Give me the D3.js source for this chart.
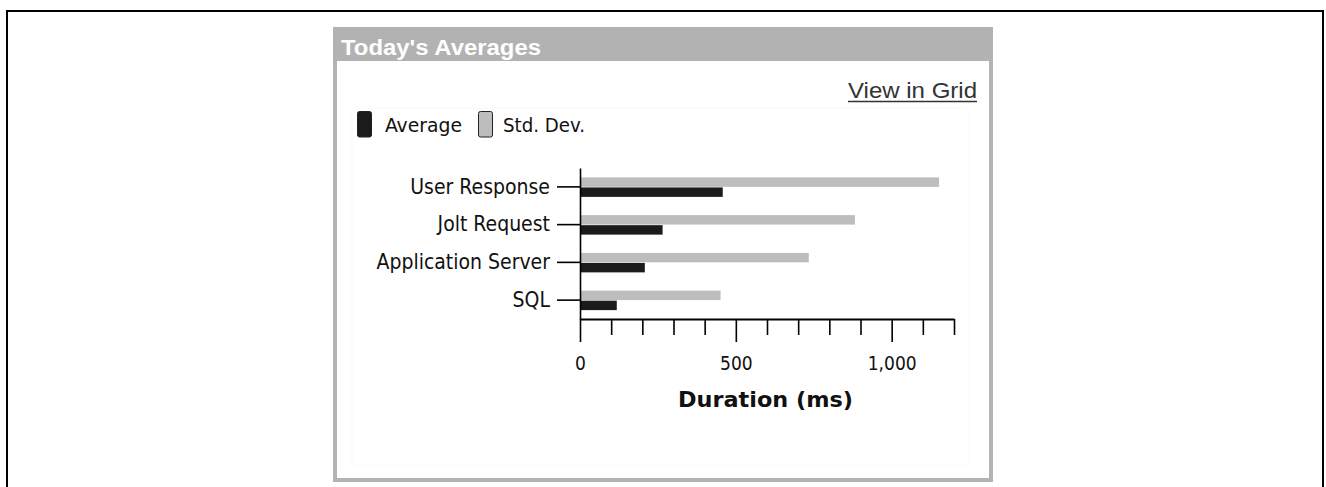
<!DOCTYPE html>
<html>
<head>
<meta charset="utf-8">
<script src="https://cdn.jsdelivr.net/npm/d3@7"></script>
<style>
  html, body { margin: 0; padding: 0; background: #fff; }
  svg { display: block; }
  .lbl { font-family: "DejaVu Sans Condensed", "DejaVu Sans", sans-serif; font-stretch: condensed; fill: #111; }
</style>
</head>
<body>
<svg id="chart" width="1326" height="487"></svg>
<script>
// Response-time breakdown for today
const categories = ["User Response", "Jolt Request", "Application Server", "SQL"];
const averageMs = [458, 265, 208, 118];
const stdDevMs = [1152, 882, 734, 451];
const seriesNames = ["Std. Dev.", "Average"];
const legendNames = ["Average", "Std. Dev."];
const xTickValues = [0, 100, 200, 300, 400, 500, 600, 700, 800, 900, 1000, 1100, 1200];
const xMajorTicks = [0, 500, 1000];
const titleText = "Today's Averages";
const linkText = "View in Grid";
const xAxisTitle = "Duration (ms)";

const svg = d3.select("#chart");
const colors = { "Average": "#1b1b1b", "Std. Dev.": "#bdbdbd" };

// page frame
svg.append("rect")
  .attr("x", 7).attr("y", 11).attr("width", 1316).attr("height", 500)
  .attr("fill", "none").attr("stroke", "#000").attr("stroke-width", 2);

// panel
const panel = { x: 333, y: 27, w: 660, h: 455, head: 34 };
svg.append("rect")
  .attr("x", panel.x + 2).attr("y", panel.y + 2)
  .attr("width", panel.w - 4).attr("height", panel.h - 4)
  .attr("fill", "#fff").attr("stroke", "#b3b3b3").attr("stroke-width", 4);
svg.append("rect")
  .attr("x", panel.x).attr("y", panel.y)
  .attr("width", panel.w).attr("height", panel.head)
  .attr("fill", "#b2b2b2");
svg.append("text")
  .attr("x", 341).attr("y", 55)
  .attr("textLength", 200).attr("lengthAdjust", "spacingAndGlyphs")
  .style("font-family", "'Liberation Sans', Arial, sans-serif")
  .style("font-weight", "bold").style("font-size", "22px")
  .attr("fill", "#fff")
  .text(titleText);

// faint plot-area outline
svg.append("rect")
  .attr("x", 352).attr("y", 108).attr("width", 616).attr("height", 357)
  .attr("fill", "none").attr("stroke", "#fafafa").attr("stroke-width", 1);

// link
svg.append("text")
  .attr("x", 848).attr("y", 98)
  .attr("textLength", 129).attr("lengthAdjust", "spacingAndGlyphs")
  .style("font-family", "'Liberation Sans', Arial, sans-serif")
  .style("font-size", "22px")
  .attr("fill", "#333")
  .text(linkText);
svg.append("line")
  .attr("x1", 848).attr("x2", 977).attr("y1", 101.5).attr("y2", 101.5)
  .attr("stroke", "#333").attr("stroke-width", 1.6);

// legend
const legendX = [357, 478];
const legendTextX = [385, 503];
const legendTextW = [77, 82];
legendNames.forEach((name, i) => {
  svg.append("rect")
    .attr("x", legendX[i] + 0.5).attr("y", 111.5)
    .attr("width", 14).attr("height", 25.5).attr("rx", 2)
    .attr("fill", colors[name]).attr("stroke", "#222").attr("stroke-width", 1);
  svg.append("text")
    .attr("class", "lbl")
    .attr("x", legendTextX[i]).attr("y", 131.5)
    .attr("textLength", legendTextW[i]).attr("lengthAdjust", "spacingAndGlyphs")
    .style("font-size", "20px")
    .text(name);
});

// scales
const x = d3.scaleLinear().domain([0, 1200]).range([580, 954]);
const y = d3.scaleBand().domain(categories).range([168, 319]).padding(0);
const sub = d3.scaleBand().domain(seriesNames).range([-9.5, 10]).paddingInner(0.06);

const rows = categories.map((c, i) => ({ cat: c, "Average": averageMs[i], "Std. Dev.": stdDevMs[i] }));

// bars
const g = svg.append("g");
rows.forEach(r => {
  const cy = y(r.cat) + y.bandwidth() / 2;
  seriesNames.forEach(s => {
    g.append("rect")
      .attr("x", x(0))
      .attr("y", cy + sub(s))
      .attr("width", x(r[s]) - x(0))
      .attr("height", sub.bandwidth())
      .attr("fill", colors[s]);
  });
});

// y axis
const yAxis = svg.append("g")
  .attr("transform", `translate(${x(0)},0)`)
  .call(d3.axisLeft(y).tickSize(23).tickSizeOuter(0).tickPadding(7));
yAxis.select(".domain").attr("stroke", "#000").attr("stroke-width", 1.6);
yAxis.selectAll(".tick line").attr("stroke", "#000").attr("stroke-width", 1.6);
yAxis.selectAll(".tick text")
  .attr("class", "lbl")
  .style("font-size", "21px")
  .attr("fill", "#111");

// x axis
const fmt = d3.format(",");
const xAxis = svg.append("g")
  .attr("transform", "translate(0,319)")
  .call(d3.axisBottom(x).tickValues(xTickValues).tickSize(16).tickSizeOuter(0)
    .tickFormat(d => xMajorTicks.includes(d) ? fmt(d) : ""));
xAxis.select(".domain").attr("stroke", "#000").attr("stroke-width", 2);
xAxis.selectAll(".tick line")
  .attr("stroke", "#000").attr("stroke-width", 1.6)
  .attr("y2", d => xMajorTicks.includes(d) ? 23 : 16);
xAxis.selectAll(".tick text")
  .attr("class", "lbl")
  .style("font-size", "19px")
  .attr("fill", "#111")
  .attr("y", 51).attr("dy", 0);

svg.append("text")
  .attr("x", 765.5).attr("y", 407)
  .attr("text-anchor", "middle")
  .attr("textLength", 175).attr("lengthAdjust", "spacingAndGlyphs")
  .style("font-family", "'DejaVu Sans', sans-serif")
  .style("font-weight", "bold").style("font-size", "21px")
  .attr("fill", "#111")
  .text(xAxisTitle);
</script>
</body>
</html>
